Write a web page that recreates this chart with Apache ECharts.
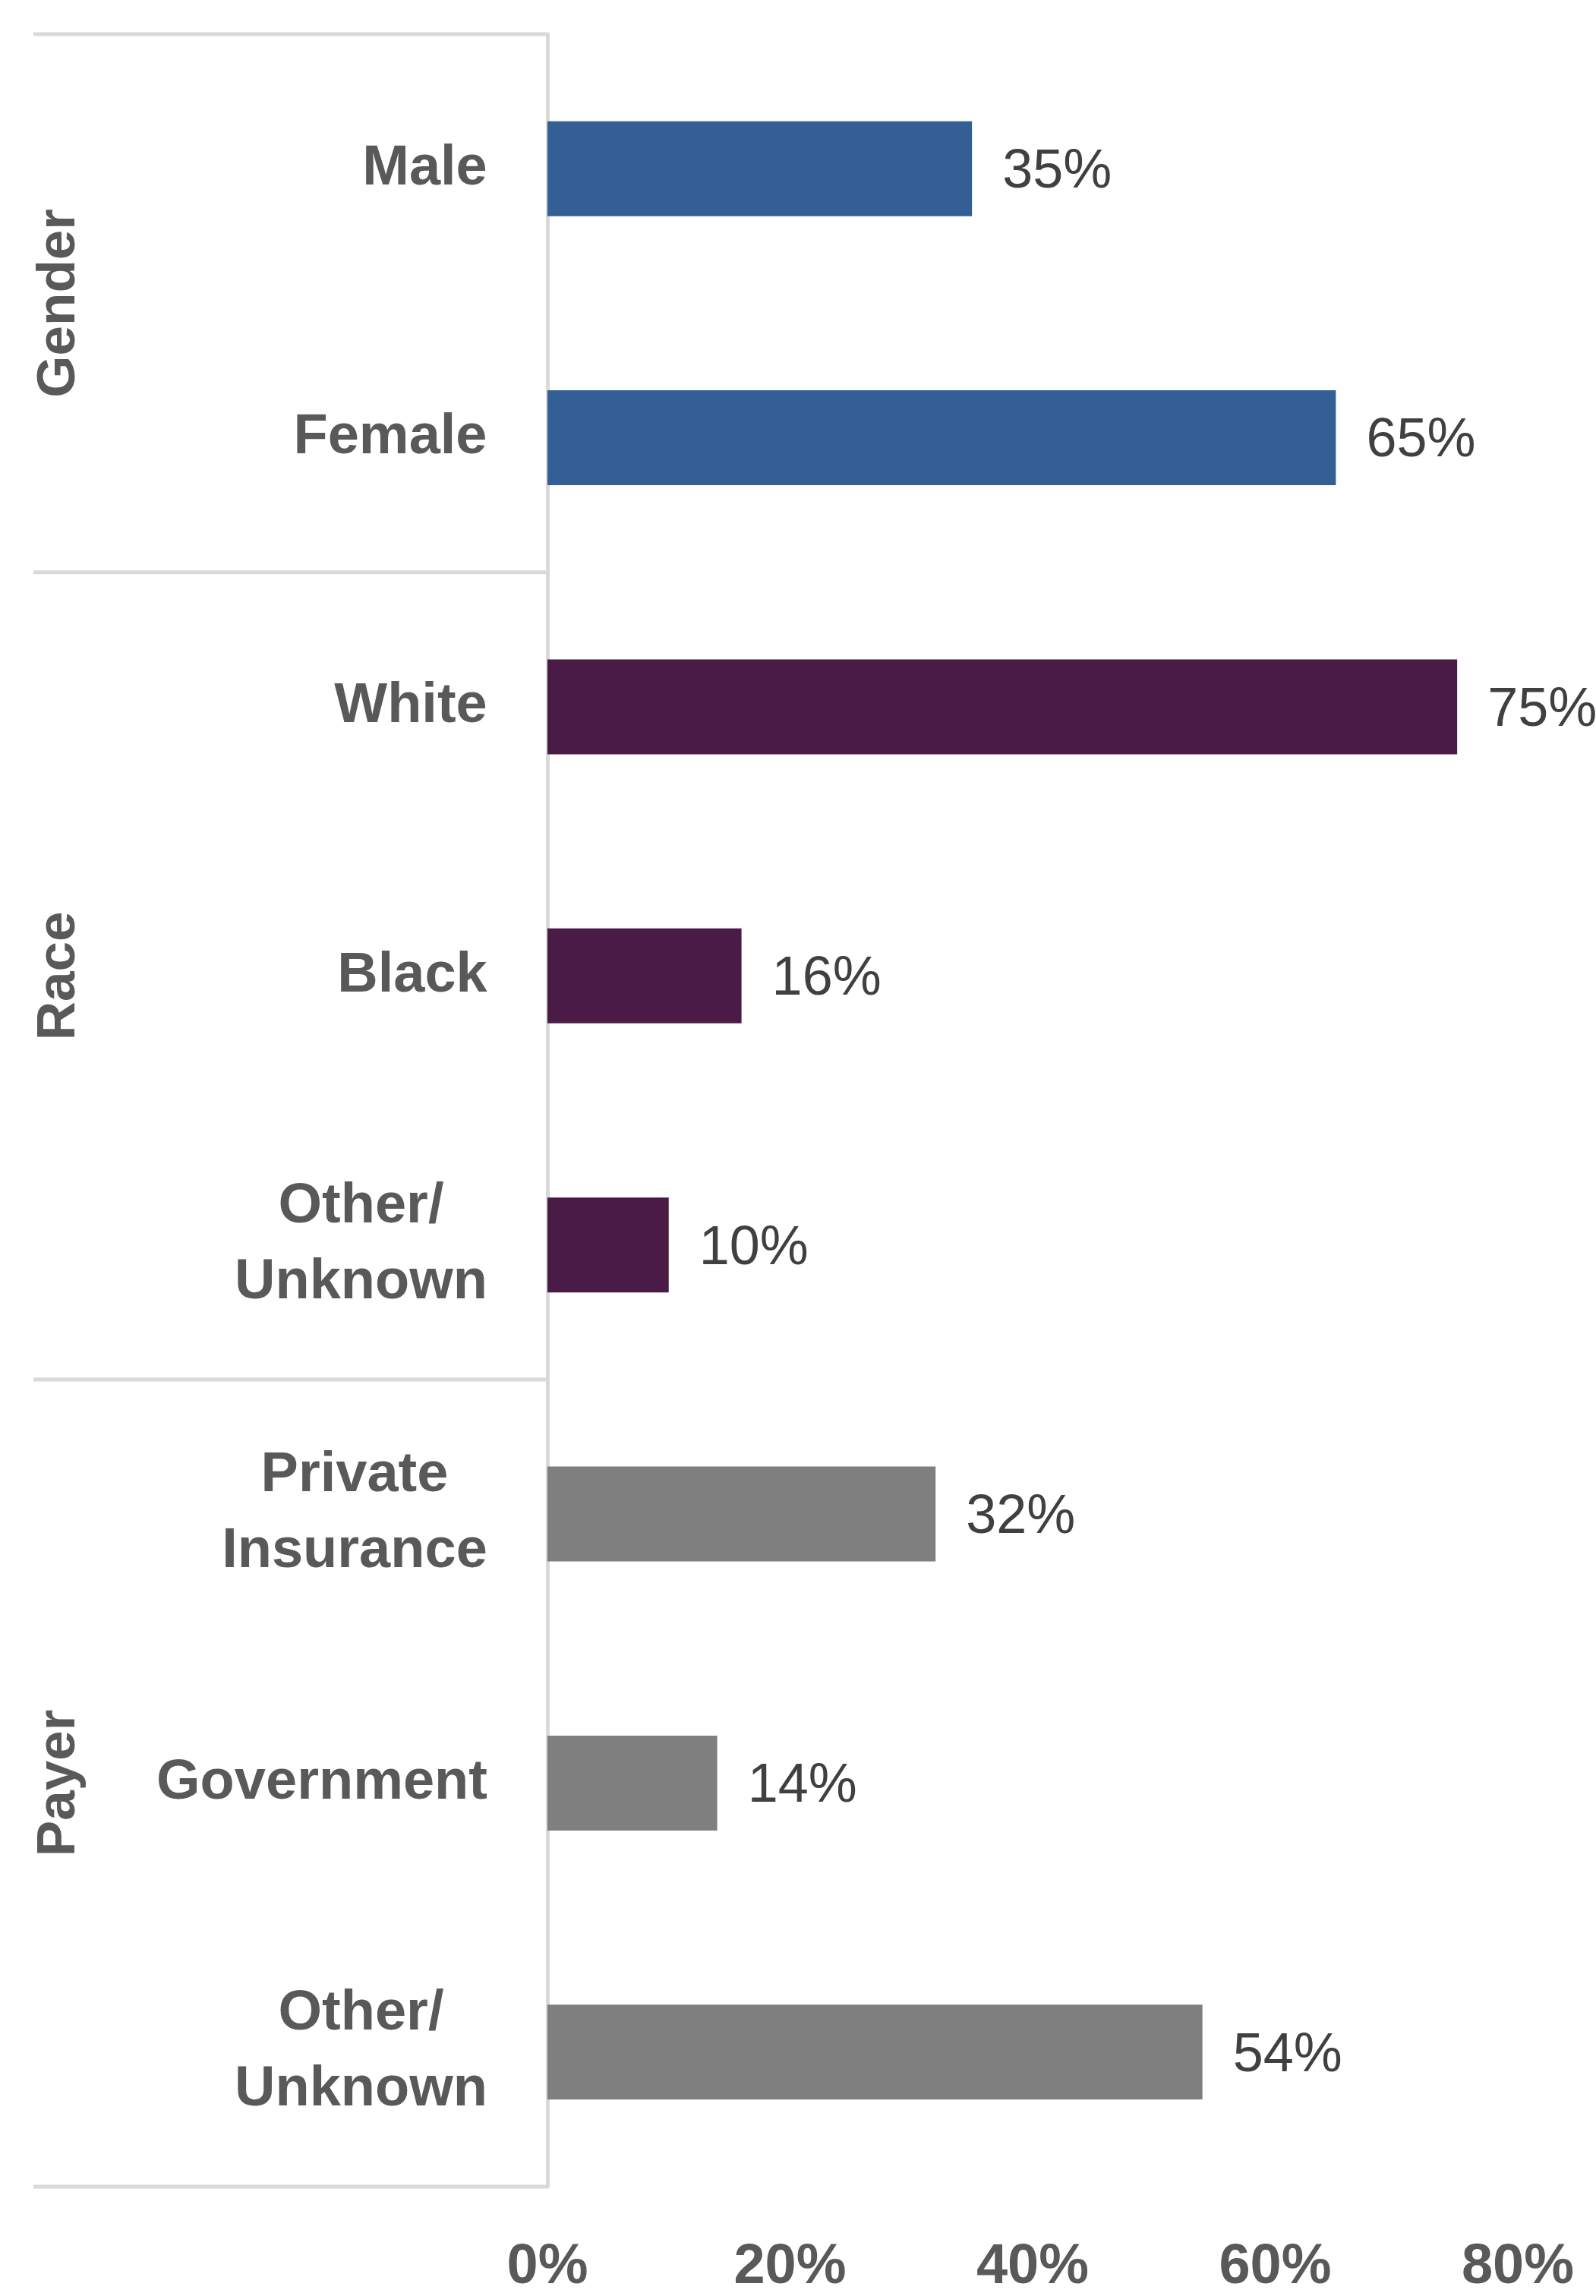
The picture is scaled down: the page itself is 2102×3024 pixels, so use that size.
<!DOCTYPE html>
<html><head><meta charset="utf-8">
<script src="https://cdn.jsdelivr.net/npm/echarts@6/dist/echarts.min.js"></script>
<style>html,body{margin:0;padding:0;background:#fff}#c{width:2102px;height:3024px}</style>
</head><body><div id="c"></div>
<script>
// ---- data ----
const categories = ['Male', 'Female', 'White', 'Black', 'Other/\nUnknown', 'Private\nInsurance', 'Government', 'Other/\nUnknown'];
const values = [35, 65, 75, 16, 10, 32, 14, 54];
const groupNames = ['Gender', 'Race', 'Payer'];
const groupSizes = [2, 3, 3];
const groupColors = ['#335f95', '#4a1b47', '#7f7f7f'];
const xMin = 0, xMax = 80, xStep = 20;

// ---- styles ----
const FONT = '"Liberation Sans", Arial, sans-serif';
const CAT_SIZE = 74, CAT_LH = 100;
const LINE_COLOR = '#d9d9d9', LINE_W = 5;

const groupOf = [];
groupSizes.forEach((n, g) => { for (let i = 0; i < n; i++) groupOf.push(g); });

const cv = document.createElement('canvas').getContext('2d');
cv.font = 'bold ' + CAT_SIZE + 'px ' + FONT;
const rich = {};
categories.forEach((c, i) => {
  const w = Math.max(...c.split('\n').map(l => cv.measureText(l).width));
  rich['c' + i] = { width: Math.ceil(w) + 2, align: 'center', fontSize: CAT_SIZE, fontWeight: 'bold',
    fontFamily: FONT, color: '#595959', lineHeight: CAT_LH };
});

const chart = echarts.init(document.getElementById('c'), null, { renderer: 'canvas' });
chart.setOption({
  animation: false,
  backgroundColor: '#ffffff',
  grid: { left: 721, right: 103, top: 45, bottom: 143, containLabel: false },
  xAxis: {
    type: 'value', min: xMin, max: xMax, interval: xStep,
    axisLine: { show: false }, axisTick: { show: false }, splitLine: { show: false },
    axisLabel: { formatter: '{value}%', fontSize: 74, fontWeight: 'bold', fontFamily: FONT, color: '#595959', margin: 70 }
  },
  yAxis: {
    type: 'category', inverse: true, data: categories,
    axisLine: { show: true, lineStyle: { color: LINE_COLOR, width: LINE_W } },
    axisTick: { show: false },
    axisLabel: {
      margin: 78, fontSize: CAT_SIZE, fontWeight: 'bold', fontFamily: FONT, color: '#595959', lineHeight: CAT_LH,
      formatter: (v, i) => v.split('\n').map(l => '{c' + i + '|' + l + '}').join('\n'),
      rich: rich
    }
  },
  series: [{
    type: 'bar', barWidth: 125,
    data: values.map((v, i) => ({ value: v, itemStyle: { color: groupColors[groupOf[i]] } })),
    label: { show: true, position: 'right', distance: 40, offset: [0, 5], formatter: '{c}%', fontSize: 72,
      fontFamily: FONT, color: '#404040' }
  }]
});

// group separators and group titles, positioned through the axis scale
const c0 = chart.convertToPixel({ yAxisIndex: 0 }, 0);
const c1 = chart.convertToPixel({ yAxisIndex: 0 }, 1);
const band = c1 - c0;
const axisX = chart.convertToPixel({ xAxisIndex: 0 }, 0);
const graphics = [];
let start = 0;
const bounds = [0];
groupSizes.forEach(n => { start += n; bounds.push(start); });
bounds.forEach(b => {
  const y = c0 + (b - 0.5) * band;
  graphics.push({ type: 'line', shape: { x1: 44, y1: y, x2: axisX, y2: y },
    style: { stroke: LINE_COLOR, lineWidth: LINE_W }, silent: true });
});
groupNames.forEach((g, k) => {
  const yTop = c0 + (bounds[k] - 0.5) * band;
  const yBot = c0 + (bounds[k + 1] - 0.5) * band;
  graphics.push({ type: 'text', x: 78, y: (yTop + yBot) / 2, rotation: Math.PI / 2,
    style: { text: g, fontSize: 71, fontWeight: 'bold', fontFamily: FONT, fill: '#595959',
      align: 'center', verticalAlign: 'middle' }, silent: true });
});
chart.setOption({ graphic: graphics });
</script>
</body></html>
